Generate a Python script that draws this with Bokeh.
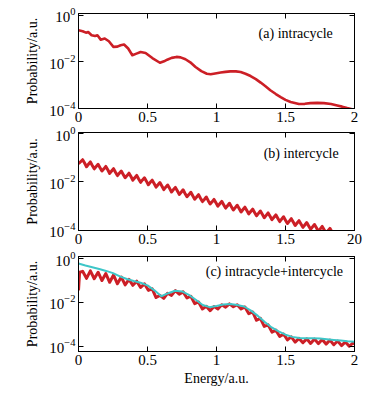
from bokeh.plotting import figure
from bokeh.layouts import column
from bokeh.models import Range1d, LogAxis, LinearAxis, FixedTicker, Label
from bokeh.embed import file_html
from bokeh.resources import INLINE

FONT = "Liberation Serif"
RED = "#cc1f26"
CYAN = "#3ec6c8"

X_TICKS = [0, 0.5, 1, 1.5, 2]
Y_TICKS = [1e-4, 1e-2, 1]
X_LABELS_A = {0: "0", 0.5: "0.5", 1: "1", 1.5: "1.5", 2: "2"}
X_LABELS_B = {0: "0", 0.5: "0.5", 1: "1", 1.5: "1.5", 2: "20"}
X_LABELS_C = {0: "0", 0.5: "0.5", 1: "1", 1.5: "1.5", 2: "2"}

# (a) intracycle: energy, log10(probability)
E_a = [0.000, 0.030, 0.054, 0.070, 0.095, 0.120, 0.137, 0.161, 0.190, 0.220,
       0.253, 0.282, 0.305, 0.330, 0.360, 0.390, 0.420, 0.450, 0.486, 0.535,
       0.590, 0.620, 0.643, 0.675, 0.710, 0.740, 0.775, 0.810, 0.848, 0.890,
       0.930, 0.958, 0.990, 1.030, 1.065, 1.100, 1.140, 1.175, 1.210, 1.247,
       1.285, 1.320, 1.355, 1.390, 1.430, 1.465, 1.500, 1.537, 1.597, 1.640,
       1.680, 1.730, 1.778, 1.830, 1.875, 1.910, 1.947, 1.975, 2.000]
L_a = [-0.65, -0.69, -0.75, -0.72, -0.86, -0.89, -0.86, -1.05, -1.00, -1.12,
       -1.36, -1.35, -1.29, -1.26, -1.43, -1.72, -1.65, -1.58, -1.62, -1.84,
       -2.04, -1.98, -1.91, -1.83, -1.79, -1.81, -1.89, -2.02, -2.22, -2.40,
       -2.51, -2.53, -2.50, -2.46, -2.43, -2.41, -2.41, -2.44, -2.51, -2.61,
       -2.74, -2.89, -3.05, -3.22, -3.38, -3.51, -3.63, -3.72, -3.81, -3.80,
       -3.77, -3.76, -3.77, -3.81, -3.87, -3.92, -3.98, -4.02, -4.07]

# (b) intercycle
E_b = [0.000, 0.030, 0.044, 0.058, 0.072, 0.086, 0.100, 0.114, 0.128, 0.142,
       0.156, 0.170, 0.184, 0.198, 0.212, 0.226, 0.240, 0.254, 0.268, 0.282,
       0.296, 0.310, 0.324, 0.338, 0.352, 0.366, 0.380, 0.394, 0.408, 0.422,
       0.436, 0.450, 0.464, 0.478, 0.492, 0.506, 0.520, 0.534, 0.548, 0.562,
       0.576, 0.590, 0.604, 0.618, 0.632, 0.646, 0.660, 0.674, 0.688, 0.702,
       0.716, 0.730, 0.744, 0.758, 0.772, 0.786, 0.800, 0.814, 0.828, 0.842,
       0.856, 0.870, 0.884, 0.898, 0.912, 0.926, 0.940, 0.954, 0.968, 0.982,
       0.996, 1.010, 1.024, 1.038, 1.052, 1.066, 1.080, 1.094, 1.108, 1.122,
       1.136, 1.150, 1.164, 1.178, 1.192, 1.206, 1.220, 1.234, 1.248, 1.262,
       1.276, 1.290, 1.304, 1.318, 1.332, 1.346, 1.360, 1.374, 1.388, 1.402,
       1.416, 1.430, 1.444, 1.458, 1.472, 1.486, 1.500, 1.514, 1.528, 1.542,
       1.556, 1.570, 1.584, 1.598, 1.612, 1.626, 1.640, 1.654, 1.668, 1.682,
       1.696, 1.710, 1.724, 1.738, 1.752, 1.766, 1.780, 1.794, 1.808, 1.822,
       1.836, 1.850, 1.864]
L_b = [-1.25,
       -1.08, -1.22, -1.37, -1.27, -1.17, -1.32, -1.46, -1.36, -1.27, -1.41, -1.55, -1.46,
       -1.36, -1.50, -1.65, -1.55, -1.45, -1.60, -1.74, -1.64, -1.55, -1.69, -1.83, -1.74,
       -1.64, -1.78, -1.93, -1.83, -1.73, -1.88, -2.02, -1.92, -1.83, -1.97, -2.12, -2.02,
       -1.93, -2.07, -2.22, -2.12, -2.03, -2.17, -2.32, -2.22, -2.13, -2.27, -2.42, -2.32,
       -2.23, -2.37, -2.52, -2.43, -2.33, -2.48, -2.62, -2.53, -2.43, -2.58, -2.72, -2.63,
       -2.53, -2.68, -2.82, -2.73, -2.63, -2.78, -2.92, -2.83, -2.73, -2.87, -3.01, -2.91,
       -2.81, -2.95, -3.09, -2.99, -2.89, -3.03, -3.17, -3.07, -2.97, -3.11, -3.25, -3.15,
       -3.05, -3.19, -3.33, -3.23, -3.13, -3.27, -3.41, -3.31, -3.21, -3.35, -3.49, -3.39,
       -3.29, -3.43, -3.57, -3.47, -3.37, -3.51, -3.65, -3.55, -3.45, -3.59, -3.73, -3.63,
       -3.53, -3.67, -3.81, -3.71, -3.61, -3.75, -3.89, -3.79, -3.69, -3.83, -3.97, -3.87,
       -3.77, -3.91, -4.05, -3.95, -3.85, -3.99, -4.13, -4.03, -3.93, -4.07, -4.21, -4.12]

# (c) intracycle+intercycle: red curve
E_rc = [0.000, 0.008, 0.030, 0.058, 0.086, 0.114, 0.142, 0.170, 0.198, 0.226,
        0.254, 0.282, 0.310, 0.338, 0.366, 0.394, 0.422, 0.450, 0.478, 0.506,
        0.534, 0.562, 0.590, 0.618, 0.646, 0.674, 0.702, 0.730, 0.758, 0.786,
        0.814, 0.842, 0.870, 0.898, 0.926, 0.954, 0.982, 1.010, 1.038, 1.066,
        1.094, 1.122, 1.150, 1.178, 1.206, 1.234, 1.262, 1.290, 1.318, 1.346,
        1.374, 1.402, 1.430, 1.458, 1.486, 1.514, 1.542, 1.570, 1.598, 1.626,
        1.654, 1.682, 1.710, 1.738, 1.766, 1.794, 1.822, 1.850, 1.878, 1.906,
        1.934, 1.962, 1.990, 2.000]
L_rc = [-1.45, -0.62, -0.58, -0.90, -0.56, -0.92, -0.62, -1.00, -0.68, -1.08,
        -0.75, -1.15, -0.84, -1.20, -0.95, -1.22, -1.03, -1.32, -1.15, -1.45,
        -1.38, -1.78, -1.68, -1.82, -1.58, -1.68, -1.46, -1.63, -1.52, -1.80,
        -1.72, -2.06, -1.98, -2.30, -2.18, -2.38, -2.19, -2.30, -2.11, -2.22,
        -2.07, -2.20, -2.11, -2.30, -2.21, -2.52, -2.44, -2.82, -2.73, -3.10,
        -3.03, -3.36, -3.27, -3.56, -3.45, -3.72, -3.58, -3.82, -3.65, -3.85,
        -3.67, -3.88, -3.68, -3.89, -3.70, -3.91, -3.73, -3.94, -3.77, -3.98,
        -3.81, -4.01, -3.85, -3.92]

# (c) cyan curve
E_cc = [0.00, 0.05, 0.10, 0.15, 0.20, 0.25, 0.30, 0.35, 0.40, 0.45,
        0.50, 0.55, 0.60, 0.65, 0.70, 0.75, 0.80, 0.85, 0.90, 0.95,
        1.00, 1.05, 1.10, 1.15, 1.20, 1.25, 1.30, 1.35, 1.40, 1.45,
        1.50, 1.55, 1.60, 1.65, 1.70, 1.75, 1.80, 1.85, 1.90, 1.95, 2.00]
L_cc = [-0.22, -0.31, -0.39, -0.47, -0.56, -0.66, -0.81, -0.93, -1.02, -1.10,
        -1.22, -1.45, -1.72, -1.58, -1.47, -1.50, -1.66, -1.88, -2.12, -2.22,
        -2.17, -2.10, -2.08, -2.12, -2.19, -2.38, -2.62, -2.90, -3.15, -3.33,
        -3.48, -3.58, -3.63, -3.64, -3.64, -3.66, -3.69, -3.72, -3.75, -3.78, -3.80]


def pw(E, L):
    n = min(len(E), len(L))
    return list(E[:n]), [10 ** v for v in L[:n]]


def style(ax, labels=True):
    ax.major_tick_in = 5
    ax.major_tick_out = 0
    ax.minor_tick_in = 0
    ax.minor_tick_out = 0
    ax.axis_line_color = "black"
    ax.major_tick_line_color = "black"
    ax.major_label_text_font = FONT
    ax.major_label_text_color = "black"
    ax.major_label_text_font_size = "15px"
    ax.major_label_standoff = 3
    if not labels:
        ax.major_label_text_alpha = 0
        ax.major_label_text_font_size = "1px"
        ax.major_label_standoff = 0
    ax.axis_label_text_font = FONT
    ax.axis_label_text_font_style = "normal"
    ax.axis_label_text_font_size = "14px"
    ax.axis_label_text_color = "black"


def make_fig(height, top, bottom, ymin, ymax, xlabels, xtitle=None):
    p = figure(width=364, height=height, x_range=Range1d(0, 2),
               y_range=Range1d(ymin, ymax), y_axis_type="log",
               output_backend="svg", toolbar_location=None,
               min_border_left=78, min_border_right=10,
               min_border_top=top, min_border_bottom=bottom)
    p.xgrid.visible = False
    p.ygrid.visible = False
    p.outline_line_color = "black"
    p.outline_line_width = 1
    p.outline_line_alpha = 1
    p.background_fill_color = "white"
    p.border_fill_color = "white"

    xa = p.xaxis[0]
    xa.ticker = FixedTicker(ticks=X_TICKS, minor_ticks=[])
    xa.major_label_overrides = xlabels
    style(xa)
    if xtitle:
        xa.axis_label = xtitle
        xa.axis_label_standoff = 3

    ya = p.yaxis[0]
    ya.ticker = FixedTicker(ticks=Y_TICKS, minor_ticks=[])
    ya.axis_label = "Probability/a.u."
    ya.axis_label_standoff = 6
    style(ya)

    top_ax = LinearAxis(ticker=FixedTicker(ticks=X_TICKS, minor_ticks=[]))
    style(top_ax, labels=False)
    p.add_layout(top_ax, "above")
    right_ax = LogAxis(ticker=FixedTicker(ticks=Y_TICKS, minor_ticks=[]))
    style(right_ax, labels=False)
    p.add_layout(right_ax, "right")
    return p


pa = make_fig(125, 13, 17, 10 ** -4.0, 10 ** 0.07, X_LABELS_A)
x, y = pw(E_a, L_a)
pa.line(x, y, line_color=RED, line_width=2.6, line_join="round")
pa.add_layout(Label(x=1.305, y=10 ** -0.78, text="(a) intracycle", text_font=FONT,
                    text_font_size="14px", text_baseline="middle", text_color="black"))

pb = make_fig(125, 7, 20, 10 ** -4.02, 10 ** 0.05, X_LABELS_B)
x, y = pw(E_b, L_b)
pb.line(x, y, line_color=RED, line_width=3, line_join="round")
pb.add_layout(Label(x=1.342, y=10 ** -0.83, text="(b) intercycle", text_font=FONT,
                    text_font_size="14px", text_baseline="middle", text_color="black"))

pc = make_fig(138, 6, 35, 10 ** -4.25, 10 ** 0.1, X_LABELS_C, xtitle="Energy/a.u.")
x, y = pw(E_rc, L_rc)
pc.line(x, y, line_color=RED, line_width=3, line_join="round")
x, y = pw(E_cc, L_cc)
pc.line(x, y, line_color=CYAN, line_width=2, line_join="round")
pc.add_layout(Label(x=0.922, y=10 ** -0.58, text="(c) intracycle+intercycle", text_font=FONT,
                    text_font_size="14px", text_baseline="middle", text_color="black"))

layout = column(pa, pb, pc)
open("out.html", "w").write(file_html(layout, INLINE))
